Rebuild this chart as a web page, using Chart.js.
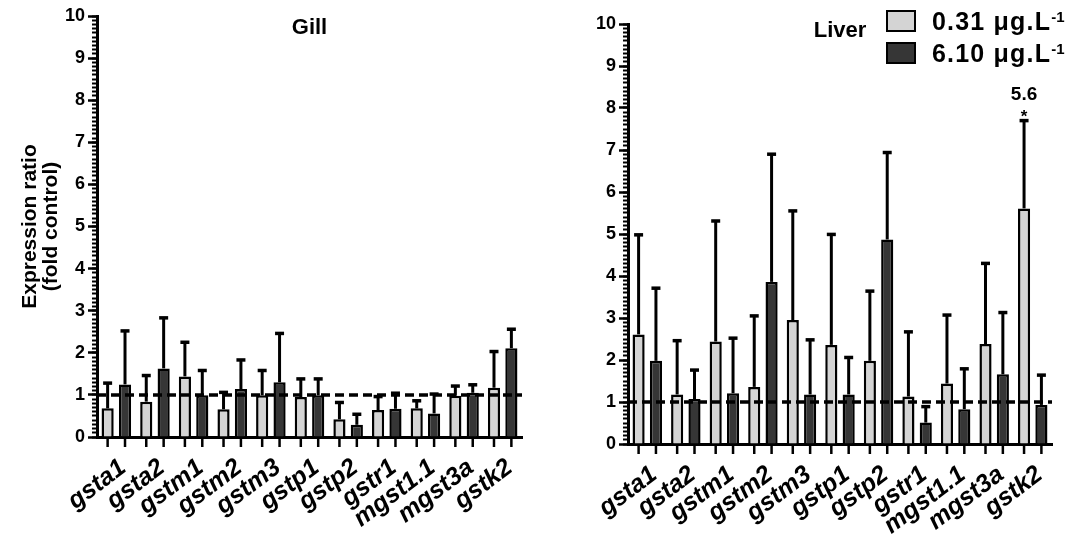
<!DOCTYPE html>
<html>
<head>
<meta charset="utf-8">
<title>GST expression - gill and liver</title>
<script src="https://cdn.jsdelivr.net/npm/chart.js@4.4.1/dist/chart.umd.min.js"></script>
<style>
  body { margin: 0; background: #fff; font-family: "Liberation Sans", Arial, sans-serif; }
  #wrap { position: relative; width: 1073px; height: 551px; overflow: hidden; }
  .panel { position: absolute; top: 0; height: 551px; }
  #gillPanel { left: 0; width: 536px; }
  #liverPanel { left: 536px; width: 537px; }
  #legend { position: absolute; left: 886px; top: 10px; }
  .item { display: flex; align-items: center; height: 22px; margin-bottom: 10px; font-weight: bold; font-size: 25px; letter-spacing: 1.2px; white-space: nowrap; }
  .sw { width: 26px; height: 18px; border: 2px solid #000; margin-right: 16px; flex: none; }
  .item sup { font-size: 15px; line-height: 0; position: relative; top: -4px; letter-spacing: 0; }
</style>
</head>
<body>
<div id="wrap">
  <div class="panel" id="gillPanel"><canvas id="gill"></canvas></div>
  <div class="panel" id="liverPanel"><canvas id="liver"></canvas></div>
  <div id="legend"></div>
</div>
<script>
// genes on the x axis (same order in both tissues)
const genes = ['gsta1', 'gsta2', 'gstm1', 'gstm2', 'gstm3', 'gstp1', 'gstp2', 'gstr1', 'mgst1.1', 'mgst3a', 'gstk2'];

// exposure groups
const seriesNames = ['0.31 \u03bcg.L', '6.10 \u03bcg.L'];
const seriesColors = ['#d4d4d4', '#363636'];

// gill: mean fold change and SD (upper whisker only)
const gillLow = [0.68, 0.84, 1.44, 0.66, 0.99, 0.95, 0.42, 0.64, 0.68, 0.98, 1.17];
const gillLowSd = [0.60, 0.62, 0.81, 0.40, 0.59, 0.43, 0.40, 0.32, 0.18, 0.23, 0.86];
const gillHigh = [1.25, 1.63, 0.99, 1.14, 1.30, 0.99, 0.29, 0.67, 0.56, 1.05, 2.11];
const gillHighSd = [1.27, 1.20, 0.59, 0.69, 1.16, 0.39, 0.25, 0.37, 0.46, 0.19, 0.45];

// liver
const liverLow = [2.61, 1.18, 2.44, 1.36, 2.95, 2.36, 1.98, 1.13, 1.44, 2.38, 5.61];
const liverLowSd = [2.37, 1.28, 2.87, 1.69, 2.60, 2.63, 1.66, 1.54, 1.63, 1.92, 2.09];
const liverHigh = [1.98, 1.07, 1.21, 3.86, 1.18, 1.18, 4.87, 0.51, 0.83, 1.66, 0.93];
const liverHighSd = [1.73, 0.69, 1.31, 3.04, 1.30, 0.88, 2.07, 0.38, 0.96, 1.47, 0.71];

// significance note in liver (gstk2, low dose)
const liverNote = { index: 10, dataset: 0, lines: ['5.6', '*'] };

// y axis
const yMin = 0, yMax = 10, yStep = 1, yMinorStep = 0.1;
const controlLevel = 1;

const FONT = '"Liberation Sans", Arial, sans-serif';

// legend (html, upper right of liver panel)
let lg = '';
seriesNames.forEach((n, i) => {
    lg += `<div class="item"><span class="sw" style="background:${seriesColors[i]}"></span>${n}<sup>-1</sup></div>`;
});
document.getElementById('legend').innerHTML = lg;

// error bars, control line, per-bar ticks, panel title, notes
const extras = {
    id: 'extras',
    afterDatasetsDraw(chart, args, opts) {
        const { ctx, chartArea: a } = chart;
        const y = chart.scales.y;
        ctx.save();
        ctx.strokeStyle = '#000';
        ctx.fillStyle = '#000';

        // dashed line at fold = 1
        const y1 = y.getPixelForValue(controlLevel);
        ctx.lineWidth = 3.5;
        ctx.setLineDash([9, 5]);
        ctx.beginPath();
        ctx.moveTo(a.left, y1);
        ctx.lineTo(a.right, y1);
        ctx.stroke();
        ctx.setLineDash([]);

        chart.data.datasets.forEach((ds, di) => {
            chart.getDatasetMeta(di).data.forEach((bar, i) => {
                const top = y.getPixelForValue(ds.data[i] + ds.sd[i]);
                ctx.lineWidth = 3;
                ctx.beginPath();
                ctx.moveTo(bar.x, bar.y);
                ctx.lineTo(bar.x, top);
                ctx.stroke();
                ctx.lineWidth = 3.5;
                ctx.beginPath();
                ctx.moveTo(bar.x - 4.5, top);
                ctx.lineTo(bar.x + 4.5, top);
                ctx.stroke();
                // tick under each bar
                ctx.lineWidth = 2.5;
                ctx.beginPath();
                ctx.moveTo(bar.x, a.bottom);
                ctx.lineTo(bar.x, a.bottom + 10);
                ctx.stroke();
            });
        });

        // panel title
        ctx.font = `bold 22px ${FONT}`;
        ctx.textAlign = 'center';
        ctx.textBaseline = 'alphabetic';
        ctx.fillText(opts.title, (a.left + a.right) / 2, opts.titleY);

        // note above a bar
        if (opts.note) {
            const n = opts.note;
            const ds = chart.data.datasets[n.dataset];
            const bar = chart.getDatasetMeta(n.dataset).data[n.index];
            const top = y.getPixelForValue(ds.data[n.index] + ds.sd[n.index]);
            ctx.font = `bold 19px ${FONT}`;
            ctx.fillText(n.lines[0], bar.x, top - 21);
            ctx.font = `bold 17px ${FONT}`;
            ctx.fillText(n.lines[1], bar.x, top + 1);
        }
        ctx.restore();
    }
};

function makeChart(id, low, lowSd, high, highSd, cfg) {
    const yTitle = cfg.yTitle
        ? { display: true, text: cfg.yTitle, color: '#000', font: { family: FONT, size: 21, weight: 'bold', lineHeight: 1.0 }, padding: { top: 20, bottom: 0 } }
        : { display: false };
    return new Chart(document.getElementById(id), {
        type: 'bar',
        data: {
            labels: genes,
            datasets: [
                { label: seriesNames[0], data: low, sd: lowSd, backgroundColor: seriesColors[0], borderColor: '#000', borderWidth: 2.5 },
                { label: seriesNames[1], data: high, sd: highSd, backgroundColor: seriesColors[1], borderColor: '#000', borderWidth: 2.5 }
            ]
        },
        options: {
            responsive: true,
            maintainAspectRatio: false,
            animation: false,
            layout: { padding: { top: cfg.top, right: cfg.right, left: 0, bottom: 0 } },
            categoryPercentage: 0.9,
            barPercentage: 0.7,
            plugins: {
                legend: { display: false },
                tooltip: { enabled: false },
                extras: { title: cfg.title, titleY: cfg.titleY, note: cfg.note }
            },
            scales: {
                x: {
                    grid: { display: false },
                    border: { color: '#000', width: 3 },
                    ticks: {
                        color: '#000',
                        font: { family: FONT, size: 25, weight: 'bold', style: 'italic' },
                        minRotation: 37, maxRotation: 37,
                        autoSkip: false,
                        padding: 8,
                        labelOffset: 7
                    },
                    afterFit: s => { s.height = cfg.xHeight; }
                },
                y: {
                    min: yMin, max: yMax,
                    weight: 1,
                    border: { color: '#000', width: 3 },
                    grid: { drawOnChartArea: false, tickLength: 9, tickWidth: 2.5, tickColor: '#000' },
                    ticks: { stepSize: yStep, color: '#000', padding: 3, font: { family: FONT, size: 18, weight: 'bold' } },
                    title: yTitle,
                    afterFit: s => { s.width = cfg.yWidth; }
                },
                yMinor: {
                    position: 'left',
                    min: yMin, max: yMax,
                    weight: 0,
                    border: { display: false },
                    grid: { drawOnChartArea: false, tickLength: 5, tickWidth: 2, tickColor: '#000' },
                    ticks: { stepSize: yMinorStep, display: false },
                    afterFit: s => { s.width = 0; }
                }
            }
        },
        plugins: [extras]
    });
}

makeChart('gill', gillLow, gillLowSd, gillHigh, gillHighSd, {
    title: 'Gill', titleY: 34, top: 16, right: 14, yWidth: 97, xHeight: 114,
    yTitle: ['Expression ratio', '(fold control)']
});
makeChart('liver', liverLow, liverLowSd, liverHigh, liverHighSd, {
    title: 'Liver', titleY: 37, top: 24, right: 21, yWidth: 92, xHeight: 107,
    note: liverNote
});
</script>
</body>
</html>
